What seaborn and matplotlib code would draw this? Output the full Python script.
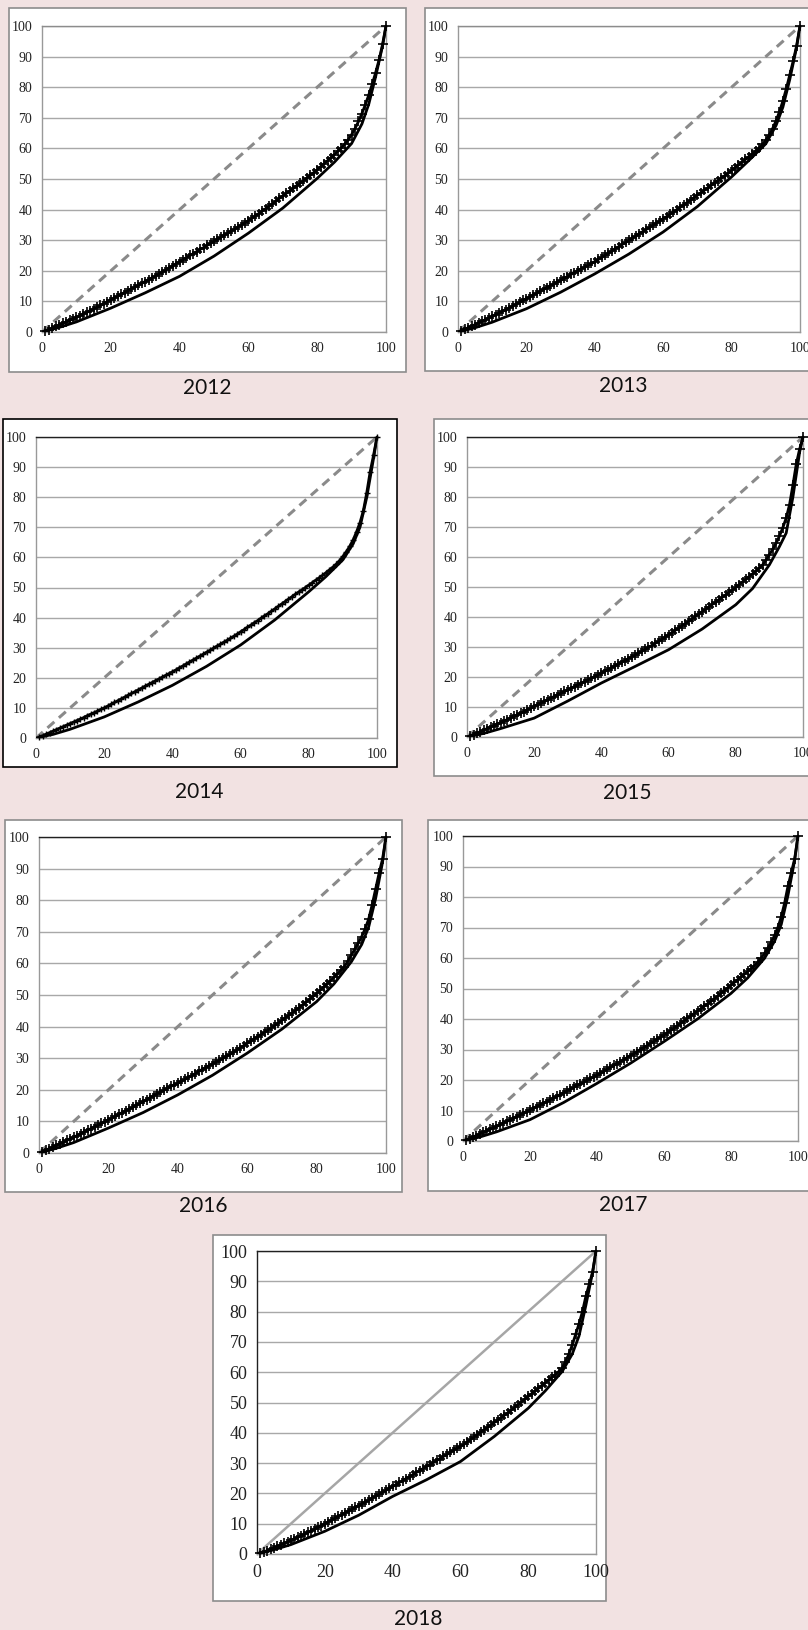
import matplotlib
matplotlib.use("Agg")
import matplotlib.pyplot as plt
import seaborn as sns
from matplotlib.patches import Rectangle

sns.set_style("white")
plt.rcParams['font.family'] = ['Liberation Serif', 'DejaVu Serif']

# ---- data (population share % vs cumulative share %) ----
years = ['2012', '2013', '2014', '2015', '2016', '2017', '2018']
pct = list(range(1, 101))
solid_x = [0, 5, 10, 20, 30, 40, 50, 60, 70, 80, 85, 90, 93, 95, 97, 99, 100]
equal_x = [0, 100]
equal_y = [0, 100]

plus_2012 = [0.4, 0.8, 1.3, 1.8, 2.3, 2.8, 3.3, 3.8, 4.3, 4.8,
             5.3, 5.9, 6.4, 7.0, 7.5, 8.1, 8.7, 9.3, 9.9, 10.5,
             11.1, 11.7, 12.3, 12.9, 13.5, 14.1, 14.7, 15.3, 15.9, 16.5,
             17.1, 17.7, 18.3, 19.0, 19.6, 20.3, 21.0, 21.6, 22.3, 23.0,
             23.6, 24.3, 25.0, 25.6, 26.3, 27.0, 27.6, 28.3, 29.0, 29.7,
             30.3, 31.0, 31.7, 32.3, 33.0, 33.6, 34.3, 35.0, 35.7, 36.4,
             37.2, 37.9, 38.7, 39.5, 40.3, 41.1, 41.9, 42.8, 43.7, 44.5,
             45.3, 46.1, 46.9, 47.8, 48.6, 49.4, 50.3, 51.2, 52.1, 53.0,
             54.0, 55.0, 56.0, 57.0, 58.0, 59.1, 60.2, 61.4, 62.8, 64.5,
             66.5, 68.8, 71.4, 74.3, 77.5, 81.0, 84.8, 89.0, 94.0, 100.0]
plus_2013 = [0.4, 0.9, 1.4, 1.9, 2.4, 3.0, 3.5, 4.0, 4.6, 5.1,
             5.7, 6.2, 6.8, 7.3, 7.9, 8.5, 9.1, 9.7, 10.3, 10.9,
             11.5, 12.1, 12.7, 13.3, 13.9, 14.5, 15.1, 15.7, 16.3, 16.9,
             17.5, 18.1, 18.8, 19.4, 20.0, 20.6, 21.2, 21.8, 22.4, 23.0,
             23.7, 24.4, 25.1, 25.8, 26.5, 27.2, 27.9, 28.6, 29.3, 30.0,
             30.7, 31.4, 32.1, 32.8, 33.5, 34.2, 34.9, 35.6, 36.3, 37.0,
             37.7, 38.5, 39.2, 40.0, 40.8, 41.5, 42.3, 43.1, 43.9, 44.7,
             45.5, 46.3, 47.1, 47.9, 48.7, 49.5, 50.3, 51.1, 51.9, 52.8,
             53.7, 54.6, 55.5, 56.4, 57.3, 58.2, 59.1, 60.1, 61.3, 62.7,
             64.4, 66.5, 69.0, 72.0, 75.5, 79.5, 84.0, 88.5, 93.5, 100.0]
plus_2014 = [0.4, 0.8, 1.3, 1.8, 2.3, 2.8, 3.3, 3.8, 4.3, 4.8,
             5.3, 5.8, 6.3, 6.8, 7.4, 7.9, 8.4, 8.9, 9.5, 10.0,
             10.6, 11.2, 11.8, 12.4, 13.0, 13.6, 14.2, 14.8, 15.4, 16.0,
             16.6, 17.2, 17.8, 18.4, 19.0, 19.6, 20.2, 20.8, 21.4, 22.0,
             22.6, 23.3, 23.9, 24.6, 25.2, 25.9, 26.5, 27.2, 27.8, 28.5,
             29.1, 29.8, 30.5, 31.1, 31.8, 32.4, 33.1, 33.8, 34.5, 35.3,
             36.0, 36.8, 37.5, 38.3, 39.0, 39.8, 40.6, 41.3, 42.1, 42.9,
             43.7, 44.5, 45.3, 46.1, 46.9, 47.7, 48.5, 49.2, 50.0, 50.8,
             51.6, 52.4, 53.2, 54.0, 54.9, 55.8, 56.7, 57.7, 58.9, 60.3,
             61.9, 63.7, 65.8, 68.5, 71.5, 75.5, 81.5, 88.5, 94.0, 100.0]
plus_2015 = [0.4, 0.8, 1.3, 1.8, 2.3, 2.8, 3.3, 3.8, 4.3, 4.8,
             5.3, 5.8, 6.4, 6.9, 7.4, 8.0, 8.5, 9.1, 9.6, 10.2,
             10.8, 11.3, 11.9, 12.4, 13.0, 13.5, 14.1, 14.6, 15.2, 15.7,
             16.3, 16.8, 17.4, 17.9, 18.5, 19.0, 19.6, 20.1, 20.7, 21.3,
             21.9, 22.5, 23.1, 23.7, 24.3, 24.9, 25.5, 26.1, 26.7, 27.3,
             28.0, 28.6, 29.2, 29.9, 30.5, 31.2, 31.9, 32.6, 33.3, 34.1,
             34.8, 35.6, 36.3, 37.1, 37.8, 38.6, 39.4, 40.2, 41.0, 41.8,
             42.6, 43.4, 44.2, 45.0, 45.8, 46.6, 47.4, 48.2, 49.0, 49.9,
             50.8, 51.7, 52.6, 53.5, 54.4, 55.3, 56.3, 57.4, 59.0, 60.8,
             62.6, 64.6, 67.0, 69.8, 73.0, 77.5, 84.0, 91.0, 96.0, 100.0]
plus_2016 = [0.4, 0.9, 1.4, 1.9, 2.4, 2.9, 3.4, 4.0, 4.5, 5.0,
             5.5, 6.1, 6.6, 7.2, 7.7, 8.3, 8.8, 9.4, 9.9, 10.5,
             11.1, 11.6, 12.2, 12.8, 13.4, 13.9, 14.5, 15.1, 15.7, 16.3,
             16.9, 17.5, 18.1, 18.7, 19.3, 19.9, 20.5, 21.1, 21.6, 22.1,
             22.7, 23.3, 23.9, 24.5, 25.1, 25.8, 26.4, 27.0, 27.6, 28.2,
             28.8, 29.4, 30.0, 30.6, 31.2, 31.9, 32.6, 33.3, 34.0, 34.7,
             35.4, 36.1, 36.8, 37.5, 38.2, 38.9, 39.7, 40.4, 41.2, 42.0,
             42.8, 43.6, 44.4, 45.2, 46.0, 46.9, 47.8, 48.7, 49.6, 50.5,
             51.5, 52.5, 53.5, 54.5, 55.6, 56.7, 57.8, 59.0, 60.7, 62.6,
             64.5, 66.4, 68.5, 71.0, 74.0, 78.5, 83.5, 88.5, 93.0, 100.0]
plus_2017 = [0.4, 0.8, 1.3, 1.8, 2.3, 2.8, 3.3, 3.8, 4.3, 4.8,
             5.3, 5.9, 6.4, 6.9, 7.4, 8.0, 8.5, 9.1, 9.6, 10.2,
             10.7, 11.3, 11.8, 12.4, 12.9, 13.5, 14.1, 14.6, 15.2, 15.8,
             16.4, 17.0, 17.6, 18.2, 18.7, 19.3, 19.9, 20.5, 21.0, 21.6,
             22.2, 22.9, 23.5, 24.1, 24.8, 25.4, 26.0, 26.7, 27.3, 28.0,
             28.6, 29.3, 30.0, 30.6, 31.3, 32.0, 32.7, 33.4, 34.1, 34.8,
             35.5, 36.3, 37.0, 37.8, 38.6, 39.4, 40.2, 41.0, 41.8, 42.6,
             43.4, 44.2, 45.0, 45.8, 46.6, 47.5, 48.4, 49.3, 50.2, 51.1,
             52.0, 52.9, 53.8, 54.7, 55.6, 56.5, 57.5, 58.6, 60.0, 61.5,
             63.2, 65.1, 67.4, 70.0, 73.5, 78.0, 83.5, 88.0, 92.5, 100.0]
plus_2018 = [0.3, 0.7, 1.1, 1.5, 2.0, 2.5, 3.0, 3.5, 4.0, 4.5,
             5.0, 5.5, 6.0, 6.6, 7.1, 7.7, 8.2, 8.8, 9.4, 10.0,
             10.6, 11.2, 11.8, 12.4, 13.0, 13.6, 14.2, 14.8, 15.4, 16.0,
             16.6, 17.2, 17.8, 18.5, 19.1, 19.7, 20.4, 21.0, 21.7, 22.3,
             22.9, 23.6, 24.2, 24.9, 25.5, 26.2, 26.9, 27.5, 28.2, 28.9,
             29.5, 30.2, 30.9, 31.5, 32.2, 32.9, 33.6, 34.3, 34.9, 35.5,
             36.2, 37.0, 37.8, 38.6, 39.4, 40.2, 41.0, 41.8, 42.6, 43.4,
             44.2, 45.0, 45.8, 46.6, 47.5, 48.4, 49.3, 50.2, 51.1, 52.0,
             52.9, 53.8, 54.7, 55.6, 56.5, 57.4, 58.3, 59.2, 60.2, 61.3,
             63.5, 66.0, 69.0, 72.5, 76.0, 80.0, 85.0, 89.0, 93.0, 100.0]

solid_2012 = [0, 1.5, 3.3, 7.8, 12.8, 18.2, 24.8, 32.3, 40.5, 50.2, 55.5, 61.6, 68.0, 74.5, 83.5, 93.5, 100]
solid_2013 = [0, 1.4, 3.2, 7.6, 13.0, 19.0, 25.5, 32.7, 41.0, 50.7, 56.0, 61.5, 67.5, 73.5, 82.5, 93.0, 100]
solid_2014 = [0, 1.2, 2.9, 7.0, 12.0, 17.5, 23.8, 30.9, 39.2, 48.6, 53.6, 59.2, 64.5, 70.0, 80.0, 93.0, 100]
solid_2015 = [0, 1.2, 2.8, 6.3, 12.0, 18.0, 23.5, 29.1, 36.0, 44.1, 49.5, 57.4, 63.5, 68.0, 80.0, 95.0, 100]
solid_2016 = [0, 1.5, 3.3, 7.9, 12.8, 18.4, 24.6, 31.6, 39.2, 47.9, 53.5, 60.5, 66.0, 71.5, 80.5, 92.0, 100]
solid_2017 = [0, 1.3, 3.0, 7.0, 12.6, 18.9, 25.5, 32.6, 40.0, 48.4, 53.5, 59.9, 65.5, 71.0, 80.5, 92.0, 100]
solid_2018 = [0, 1.4, 3.1, 7.5, 12.8, 19.0, 24.5, 30.5, 38.8, 48.1, 53.8, 60.2, 66.0, 72.0, 82.0, 93.0, 100]

plus_curves = [plus_2012, plus_2013, plus_2014, plus_2015, plus_2016, plus_2017, plus_2018]
solid_curves = [solid_2012, solid_2013, solid_2014, solid_2015, solid_2016, solid_2017, solid_2018]

# ---- layout in pixels: outer box, plot area, year label ----
W, H = 808, 1630
BG = '#f2e2e2'
boxes = [(9, 8, 406, 372), (425, 8, 812, 371), (3, 419, 397, 767), (434, 419, 812, 776),
         (5, 820, 402, 1192), (428, 820, 812, 1191), (213, 1235, 606, 1601)]
plots = [(42, 26, 386, 332), (458, 26, 800, 332), (36, 437, 377, 738), (467, 437, 803, 737),
         (39, 837, 386, 1153), (463, 836, 798, 1141), (257, 1251, 596, 1554)]
labels_xy = [(207, 388), (623, 386), (199, 792), (627, 793), (203, 1206), (623, 1205), (418, 1619)]
box_edge = ['#8c8c8c', '#8c8c8c', '#000000', '#8c8c8c', '#8c8c8c', '#8c8c8c', '#8c8c8c']
top_edge = ['#8c8c8c', '#8c8c8c', '#202020', '#202020', '#202020', '#202020', '#202020']


def frac(l, t, r, b):
    return [l / W, 1 - b / H, (r - l) / W, (b - t) / H]


fig = plt.figure(figsize=(W / 100, H / 100), dpi=100, facecolor=BG)

for i, year in enumerate(years):
    bl, bb, bw, bh = frac(*boxes[i])
    fig.patches.append(Rectangle((bl, bb), bw, bh, transform=fig.transFigure,
                                 facecolor='white', edgecolor=box_edge[i], lw=1.2, zorder=-1))
    ax = fig.add_axes(frac(*plots[i]))
    ax.set_facecolor('white')
    last = (year == '2018')

    # equality line
    sns.lineplot(x=equal_x, y=equal_y, ax=ax, color='#a6a6a6' if last else '#8a8a8a',
                 lw=1.8 if last else 2.2, linestyle='-' if last else (0, (3, 2)), zorder=2)
    # lower solid curve
    sns.lineplot(x=solid_x, y=solid_curves[i], ax=ax, color='black', lw=2.0, zorder=3)
    # upper curve with + markers
    small = (year == '2014')
    sns.lineplot(x=pct, y=plus_curves[i], ax=ax, color='black', lw=2.0, marker='+',
                 markersize=4.5 if small else 7, markeredgewidth=1.0 if small else 1.2,
                 markeredgecolor='black', clip_on=False, zorder=4)

    ax.set_xlim(0, 100)
    ax.set_ylim(0, 100)
    ax.set_xticks(range(0, 101, 20))
    ax.set_yticks(range(0, 101, 10))
    ax.yaxis.grid(True, color='#a8a8a8', lw=1.0)
    ax.set_axisbelow(True)
    ax.set_xlabel('')
    ax.set_ylabel('')
    for side in ('left', 'bottom', 'right'):
        ax.spines[side].set_color('#999999')
        ax.spines[side].set_linewidth(1.0)
    ax.spines['top'].set_color(top_edge[i])
    ax.spines['top'].set_linewidth(1.0)
    if last:
        ax.spines['left'].set_color('#202020')
    ax.tick_params(axis='both', direction='out', length=4, width=0.8, color='#999999',
                   labelsize=13 if last else 10, labelcolor='#222222', pad=3)

    lx, ly = labels_xy[i]
    fig.text(lx / W, 1 - ly / H, year, ha='center', va='center',
             family=['Lato', 'DejaVu Sans'], fontsize=15, color='#111111')

fig.savefig('out.png', dpi=100, facecolor=BG)
